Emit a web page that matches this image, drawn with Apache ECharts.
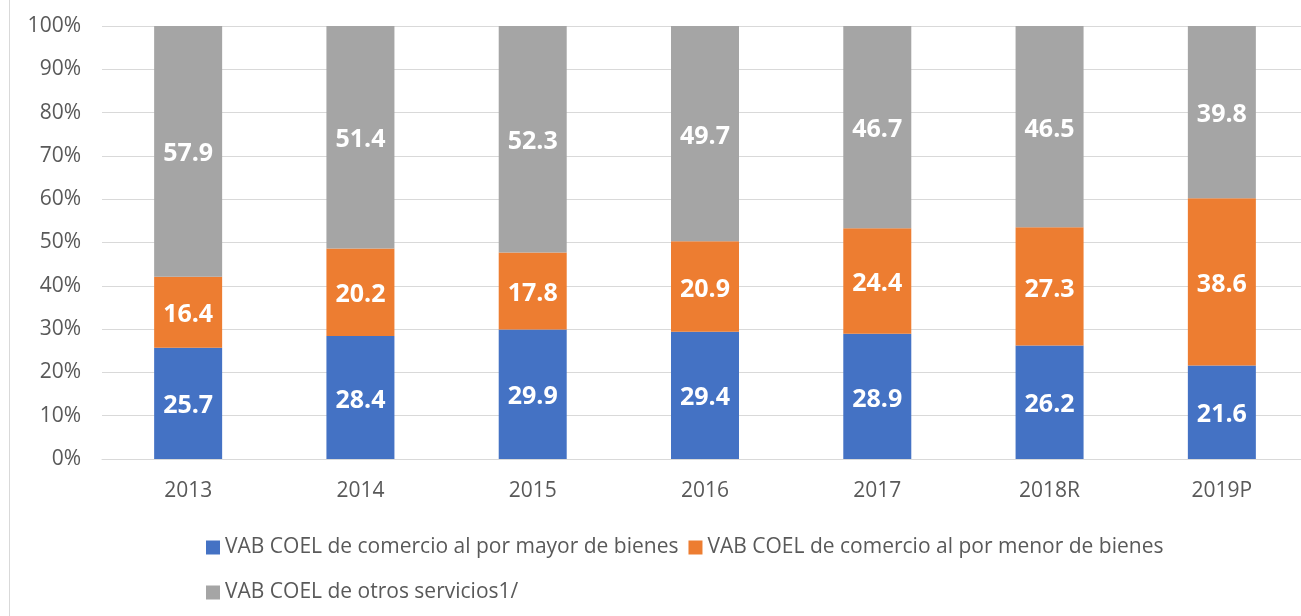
<!DOCTYPE html>
<html>
<head>
<meta charset="utf-8">
<script src="https://cdn.jsdelivr.net/npm/echarts@6/dist/echarts.min.js"></script>
<style>
  html, body { margin: 0; padding: 0; background: #fff; }
  #chart { width: 1301px; height: 616px; }
</style>
</head>
<body>
<div id="chart"></div>
<script>
var years = ['2013', '2014', '2015', '2016', '2017', '2018R', '2019P']
var mayor = [25.7, 28.4, 29.9, 29.4, 28.9, 26.2, 21.6]
var menor = [16.4, 20.2, 17.8, 20.9, 24.4, 27.3, 38.6]
var otros = [57.9, 51.4, 52.3, 49.7, 46.7, 46.5, 39.8]
var names = [
    'VAB COEL de comercio al por mayor de bienes',
    'VAB COEL de comercio al por menor de bienes',
    'VAB COEL de otros servicios1/'
]

var font = 'Open Sans'
var textColor = '#595959'

function barSeries(name, data) {
    return {
        name: name,
        type: 'bar',
        stack: 'total',
        barWidth: 68,
        data: data,
        label: {
            show: true,
            position: 'inside',
            offset: [0, 3],
            color: '#fff',
            fontFamily: font,
            fontWeight: 'bold',
            fontSize: 25,
            formatter: function (p) { return p.value.toFixed(1) }
        }
    }
}

var legendText = { color: textColor, fontFamily: font, fontSize: 21 }

var myChart = echarts.init(document.getElementById('chart'))
myChart.setOption({
    animation: false,
    color: ['#4472C4', '#ED7D31', '#A5A5A5'],
    grid: { left: 102, right: -7, top: 26, bottom: 157, outerBoundsMode: 'none' },
    legend: [{
        data: [names[0], names[1]],
        left: 201,
        top: 532,
        itemWidth: 14,
        itemHeight: 14,
        itemGap: 10,
        icon: 'rect',
        textStyle: legendText
    }, {
        data: [names[2]],
        left: 201,
        top: 577,
        itemWidth: 14,
        itemHeight: 14,
        icon: 'rect',
        textStyle: legendText
    }],
    xAxis: {
        type: 'category',
        data: years,
        axisLine: { lineStyle: { color: '#d9d9d9', width: 1 } },
        axisTick: { show: false },
        axisLabel: { color: textColor, fontFamily: font, fontSize: 21, margin: 22 }
    },
    yAxis: {
        type: 'value',
        min: 0,
        max: 100,
        interval: 10,
        axisLabel: { color: textColor, fontFamily: font, fontSize: 21, margin: 21, formatter: '{value}%' },
        splitLine: { lineStyle: { color: '#d9d9d9', width: 1 } },
        axisLine: { show: false },
        axisTick: { show: false }
    },
    graphic: [{
        type: 'line',
        shape: { x1: 9.5, y1: 0, x2: 9.5, y2: 616 },
        style: { stroke: '#d9d9d9', lineWidth: 1 }
    }],
    series: [
        barSeries(names[0], mayor),
        barSeries(names[1], menor),
        barSeries(names[2], otros)
    ]
})
</script>
</body>
</html>
